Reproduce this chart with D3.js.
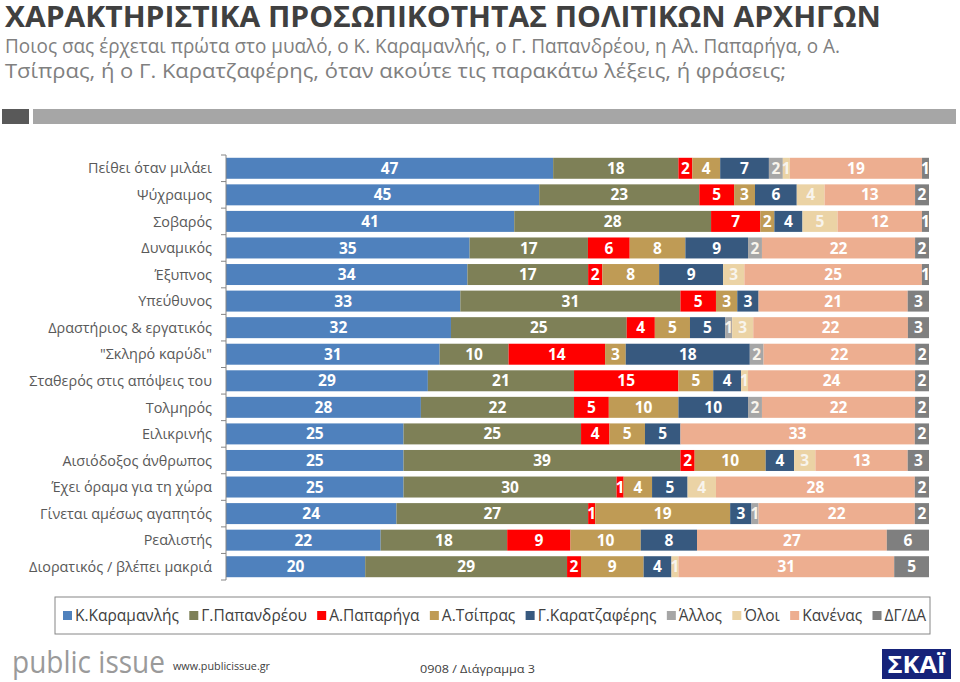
<!DOCTYPE html>
<html>
<head>
<meta charset="utf-8">
<script src="https://cdn.jsdelivr.net/npm/d3@7"></script>
<style>
  html, body { margin: 0; padding: 0; background: #fff; }
  svg { display: block; }
  text { font-family: "Open Sans", "Noto Sans", sans-serif; }
</style>
</head>
<body>
<svg id="chart" width="960" height="682"></svg>
<script>
const categories = [
  "Πείθει όταν μιλάει", "Ψύχραιμος", "Σοβαρός", "Δυναμικός", "Έξυπνος", "Υπεύθυνος",
  "Δραστήριος & εργατικός", "\"Σκληρό καρύδι\"", "Σταθερός στις απόψεις του", "Τολμηρός",
  "Ειλικρινής", "Αισιόδοξος άνθρωπος", "Έχει όραμα για τη χώρα", "Γίνεται αμέσως αγαπητός",
  "Ρεαλιστής", "Διορατικός / βλέπει μακριά"
];
const seriesNames = ["Κ.Καραμανλής", "Γ.Παπανδρέου", "Α.Παπαρήγα", "Α.Τσίπρας", "Γ.Καρατζαφέρης", "Άλλος", "Όλοι", "Κανένας", "ΔΓ/ΔΑ"];
const seriesColors = ["#4F81BD", "#7E8057", "#FF0000", "#BF9B55", "#37597F", "#A6A6A6", "#EBD3A5", "#EDAE90", "#7F7F7F"];

const karamanlis   = [47, 45, 41, 35, 34, 33, 32, 31, 29, 28, 25, 25, 25, 24, 22, 20];
const papandreou   = [18, 23, 28, 17, 17, 31, 25, 10, 21, 22, 25, 39, 30, 27, 18, 29];
const papariga     = [2, 5, 7, 6, 2, 5, 4, 14, 15, 5, 4, 2, 1, 1, 9, 2];
const tsipras      = [4, 3, 2, 8, 8, 3, 5, 3, 5, 10, 5, 10, 4, 19, 10, 9];
const karatzaferis = [7, 6, 4, 9, 9, 3, 5, 18, 4, 10, 5, 4, 5, 3, 8, 4];
const allos        = [2, 0, 0, 2, 0, 0, 1, 2, 0, 2, 0, 0, 0, 1, 0, 0];
const oloi         = [1, 4, 5, 0, 3, 0, 3, 0, 1, 0, 0, 3, 4, 0, 0, 1];
const kanenas      = [19, 13, 12, 22, 25, 21, 22, 22, 24, 22, 33, 13, 28, 22, 27, 31];
const dgda         = [1, 2, 1, 2, 1, 3, 3, 2, 2, 2, 2, 3, 2, 2, 6, 5];

const seriesValues = [karamanlis, papandreou, papariga, tsipras, karatzaferis, allos, oloi, kanenas, dgda];

(function () {
const svg = d3.select("#chart");
const headFont = "'Liberation Sans', Arial, sans-serif";

// Title & subtitle
svg.append("text").attr("x", 5).attr("y", 27)
  .attr("font-family", headFont)
  .attr("font-size", 28.5).attr("font-weight", "bold").attr("fill", "#404040")
  .attr("textLength", 876).attr("lengthAdjust", "spacingAndGlyphs")
  .text("ΧΑΡΑΚΤΗΡΙΣΤΙΚΑ ΠΡΟΣΩΠΙΚΟΤΗΤΑΣ ΠΟΛΙΤΙΚΩΝ ΑΡΧΗΓΩΝ");
svg.append("text").attr("x", 5).attr("y", 52.5)
  .attr("font-family", headFont)
  .attr("font-size", 20).attr("fill", "#808080")
  .attr("textLength", 835).attr("lengthAdjust", "spacingAndGlyphs")
  .text("Ποιος σας έρχεται πρώτα στο μυαλό, ο Κ. Καραμανλής, ο Γ. Παπανδρέου, η Αλ. Παπαρήγα, ο Α.");
svg.append("text").attr("x", 5).attr("y", 77.5)
  .attr("font-family", headFont)
  .attr("font-size", 20).attr("fill", "#808080")
  .attr("textLength", 781).attr("lengthAdjust", "spacingAndGlyphs")
  .text("Τσίπρας, ή ο Γ. Καρατζαφέρης, όταν ακούτε τις παρακάτω λέξεις, ή φράσεις;");

// Decorative header bars
svg.append("rect").attr("x", 2).attr("y", 109).attr("width", 27).attr("height", 15).attr("fill", "#595959");
svg.append("rect").attr("x", 33).attr("y", 109).attr("width", 923).attr("height", 15).attr("fill", "#A6A6A6");

// Scales
const x = d3.scaleLinear().domain([0, 1]).range([226, 929]);
const y = d3.scaleBand().domain(categories).range([155, 580]).paddingInner(0.21).paddingOuter(0.105);

// Build stacked normalized data
const rows = categories.map((c, i) => {
  const vals = seriesValues.map(s => s[i]);
  const total = d3.sum(vals);
  let cum = 0;
  return vals.map((v, j) => {
    const seg = { cat: c, series: j, value: v, x0: cum / total, x1: (cum + v) / total };
    cum += v;
    return seg;
  });
});

const g = svg.append("g");
rows.forEach(row => {
  row.forEach(seg => {
    if (seg.value <= 0) return;
    g.append("rect")
      .attr("x", x(seg.x0)).attr("y", y(seg.cat))
      .attr("width", x(seg.x1) - x(seg.x0)).attr("height", y.bandwidth())
      .attr("fill", seriesColors[seg.series]);
  });
});
rows.forEach(row => {
  row.forEach(seg => {
    if (seg.value <= 0) return;
    g.append("text")
      .attr("x", (x(seg.x0) + x(seg.x1)) / 2)
      .attr("y", y(seg.cat) + y.bandwidth() / 2)
      .attr("dy", "0.36em")
      .attr("text-anchor", "middle")
      .attr("font-size", 15.5).attr("font-weight", "bold")
      .attr("fill", (seg.series === 5 || seg.series === 6) ? "#F8F4EC" : "#FFFFFF")
      .text(seg.value);
  });
});

// Axis
const axisG = svg.append("g");
const step = y.step();
const ax0 = x(0);
const axTop = y(categories[0]) - step * y.paddingInner() / 2;
axisG.append("line").attr("x1", ax0).attr("x2", ax0)
  .attr("y1", axTop).attr("y2", axTop + step * categories.length)
  .attr("stroke", "#868686").attr("stroke-width", 1);
for (let i = 0; i <= categories.length; i++) {
  const yy = axTop + i * step;
  axisG.append("line").attr("x1", ax0 - 5).attr("x2", ax0).attr("y1", yy).attr("y2", yy)
    .attr("stroke", "#868686").attr("stroke-width", 1);
}
categories.forEach(c => {
  axisG.append("text").attr("x", 212).attr("y", y(c) + y.bandwidth() / 2).attr("dy", "0.36em")
    .attr("text-anchor", "end").attr("font-size", 14.4).attr("fill", "#595959").text(c);
});

// Legend
const legendBox = { x: 55, y: 597, w: 875, h: 37 };
svg.append("rect").attr("x", legendBox.x).attr("y", legendBox.y).attr("width", legendBox.w).attr("height", legendBox.h)
  .attr("fill", "none").attr("stroke", "#868686").attr("stroke-width", 1);
const lg = svg.append("g");
const items = seriesNames.map((n, i) => {
  const t = lg.append("text").attr("font-size", 15.5).attr("fill", "#404040").attr("y", 621).text(n);
  return { t, w: t.node().getComputedTextLength(), i };
});
const sq = 9, sqGap = 3;
const totalText = d3.sum(items, d => d.w + sq + sqGap);
const startX = 63, endX = 926;
const gap = (endX - startX - totalText) / (items.length - 1);
let cx = startX;
items.forEach(it => {
  lg.append("rect").attr("x", cx).attr("y", 611).attr("width", sq).attr("height", sq).attr("fill", seriesColors[it.i]);
  it.t.attr("x", cx + sq + sqGap);
  cx += sq + sqGap + it.w + gap;
});

// Footer
svg.append("text").attr("x", 12).attr("y", 673).attr("font-size", 31).attr("fill", "#9A9A9A")
  .attr("font-family", "DejaVu Sans").attr("textLength", 153).attr("lengthAdjust", "spacingAndGlyphs")
  .text("public issue");
svg.append("text").attr("x", 173).attr("y", 670).attr("font-size", 11).attr("fill", "#404040")
  .attr("textLength", 97).attr("lengthAdjust", "spacingAndGlyphs").text("www.publicissue.gr");
svg.append("text").attr("x", 420).attr("y", 673).attr("font-size", 11).attr("fill", "#404040")
  .attr("textLength", 115).attr("lengthAdjust", "spacingAndGlyphs").text("0908 / Διάγραμμα 3");
svg.append("rect").attr("x", 882).attr("y", 649).attr("width", 69).attr("height", 30).attr("fill", "#16237A");
svg.append("text").attr("x", 916.5).attr("y", 673).attr("text-anchor", "middle").attr("font-size", 24)
  .attr("font-weight", "bold").attr("fill", "#FFFFFF").attr("textLength", 58).attr("lengthAdjust", "spacingAndGlyphs")
  .text("ΣΚΑΪ");
})();
</script>
</body>
</html>
